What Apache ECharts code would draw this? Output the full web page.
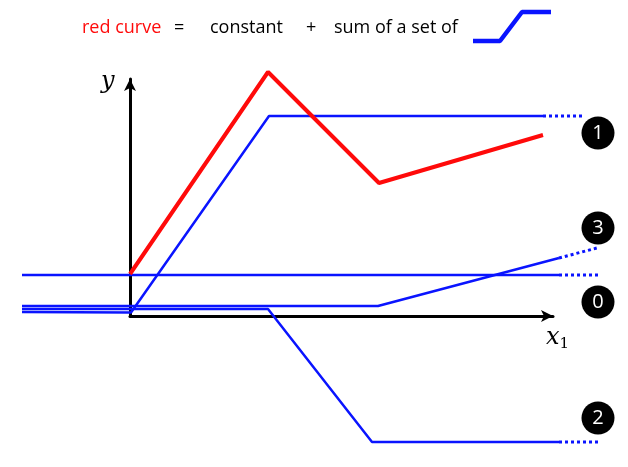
<!DOCTYPE html>
<html>
<head>
<meta charset="utf-8">
<script src="https://cdn.jsdelivr.net/npm/echarts@6/dist/echarts.min.js"></script>
<style>
	html, body { margin: 0; padding: 0; background: #fff; }
	#chart { width: 628px; height: 467px; }
</style>
</head>
<body>
<div id="chart"></div>
<script>
// units: 1 unit = 10px, origin where the two axes meet
var redCurve = [[0, 4.2], [13.8, 24.4], [24.9, 13.3], [41.3, 18.1]];
var constLine = [[-10.8, 4.1], [42.9, 4.1]];
var constDots = [[42.9, 4.1], [46.8, 4.1]];
var step1 = [[-10.8, 0.4], [0.1, 0.35], [13.9, 20.0], [41.3, 20.0]];
var step1Dots = [[41.3, 20.0], [45.2, 20.0]];
var step2 = [[-10.8, 0.7], [13.8, 0.7], [24.2, -12.6], [42.9, -12.6]];
var step2Dots = [[42.9, -12.6], [46.8, -12.6]];
var step3 = [[-10.8, 1.0], [24.8, 1.0], [42.9, 5.8]];
var step3Dots = [[42.9, 5.8], [46.7, 6.8]];
var legendStep = [[34.3, 27.5], [37.0, 27.5], [39.2, 30.4], [42.1, 30.4]];
var badgeLabels = ['1', '3', '0', '2'];
var badgeX = [46.8, 46.8, 46.8, 46.8];
var badgeY = [18.3, 8.8, 1.4, -10.2];

var BLUE = '#0a14ff';
var RED = '#ff0a0a';

function solid(data, w) {
	return {
		type: 'line', data: data, clip: false, silent: true, symbol: 'none',
		lineStyle: { color: BLUE, width: w || 2.5 }
	};
}
function dotted(data) {
	return {
		type: 'line', data: data, clip: false, silent: true, symbol: 'none',
		lineStyle: { color: BLUE, width: 3, type: [3, 3] }
	};
}

var badges = badgeLabels.map(function (d, k) {
	return { value: [badgeX[k], badgeY[k]], name: d };
});

var hidden = {
	axisLine: { show: false }, axisTick: { show: false }, axisLabel: { show: false }, splitLine: { show: false }
};
var arrowLine = {
	show: true, lineStyle: { color: '#000', width: 3 }, symbol: ['none', 'arrow'], symbolSize: [9, 12]
};

var chart = echarts.init(document.getElementById('chart'));
var option = {
	animation: false,
	grid: [
		// whole canvas, carries the curves
		{ left: 0, top: 0, width: 628, height: 467 },
		// only the two drawn axes
		{ left: 130, top: 79, width: 423, height: 237 }
	],
	xAxis: [
		Object.assign({ type: 'value', gridIndex: 0, min: -13, max: 49.8 }, hidden),
		{ type: 'value', gridIndex: 1, min: 0, max: 42.3, axisLine: arrowLine,
			axisTick: { show: false }, axisLabel: { show: false }, splitLine: { show: false } }
	],
	yAxis: [
		Object.assign({ type: 'value', gridIndex: 0, min: -15.1, max: 31.6 }, hidden),
		{ type: 'value', gridIndex: 1, min: 0, max: 23.7, axisLine: arrowLine,
			axisTick: { show: false }, axisLabel: { show: false }, splitLine: { show: false } }
	],
	graphic: [
		{ type: 'text', left: 82, top: 19, style: { text: 'red curve', fill: RED, font: '18px "Open Sans"' } },
		{ type: 'text', left: 174, top: 19, style: { text: '=', fill: '#000', font: '18px "Open Sans"' } },
		{ type: 'text', left: 210, top: 19, style: { text: 'constant', fill: '#000', font: '18px "Open Sans"' } },
		{ type: 'text', left: 306, top: 19, style: { text: '+', fill: '#000', font: '18px "Open Sans"' } },
		{ type: 'text', left: 334, top: 19, style: { text: 'sum of a set of', fill: '#000', font: '18px "Open Sans"' } },
		{ type: 'text', left: 101, top: 70, style: { text: 'y', fill: '#000', font: 'italic 24px "DejaVu Serif"' } },
		{ type: 'text', left: 546, top: 326, style: {
			text: '{x|x}{s|1}',
			rich: {
				x: { font: 'italic 24px "DejaVu Serif"', fill: '#000' },
				s: { font: '15px "DejaVu Serif"', fill: '#000', padding: [12, 0, 0, 0] }
			}
		} }
	],
	series: [
		solid(constLine), dotted(constDots),
		solid(step1), dotted(step1Dots),
		solid(step2), dotted(step2Dots),
		solid(step3), dotted(step3Dots),
		solid(legendStep, 4.5),
		{
			type: 'line', data: redCurve, clip: false, silent: true, symbol: 'none', z: 5,
			lineStyle: { color: RED, width: 4 }
		},
		{
			type: 'scatter', data: badges, clip: false, silent: true,
			symbol: 'circle', symbolSize: 33,
			itemStyle: { color: '#000', opacity: 1 },
			label: { show: true, position: 'inside', formatter: '{b}', color: '#fff', fontSize: 20, fontFamily: 'Open Sans' }
		}
	]
};
chart.setOption(option);
</script>
</body>
</html>
